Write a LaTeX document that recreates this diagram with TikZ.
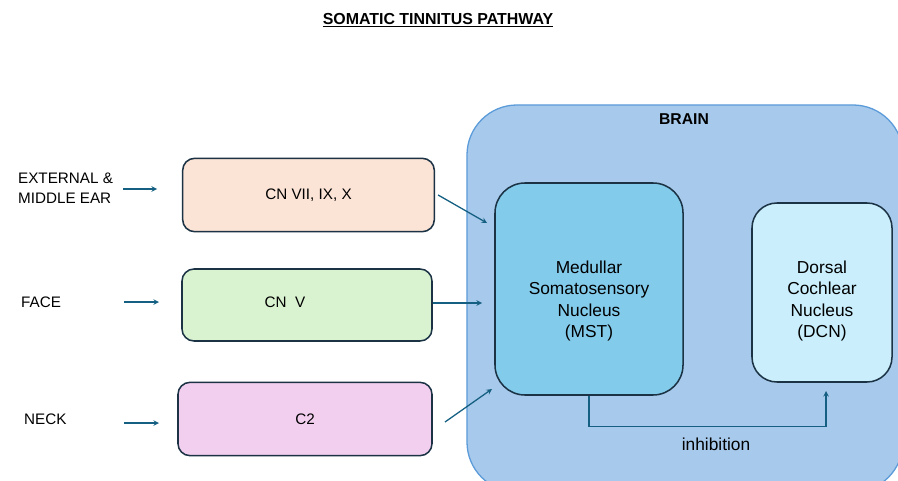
\documentclass[tikz,border=0pt]{standalone}
\usepackage{fontspec}
\setmainfont{Liberation Sans}
\usetikzlibrary{calc}
\definecolor{arrowcol}{HTML}{156082}
\definecolor{boxline}{HTML}{1B3345}
\definecolor{brainfill}{HTML}{A7C9EB}
\definecolor{brainline}{HTML}{5B9BD9}
\definecolor{earfill}{HTML}{FBE3D6}
\definecolor{facefill}{HTML}{D9F2D0}
\definecolor{neckfill}{HTML}{F2CFEE}
\definecolor{mstfill}{HTML}{83CBEB}
\definecolor{dcnfill}{HTML}{CAEEFB}

\begin{document}
\begin{tikzpicture}[x=0.03cm,y=-0.03cm,>=stealth,
		nerve/.style={draw=boxline,line width=1.3pt,rounded corners=0.36cm,minimum width=7.55cm,minimum height=2.2cm,font=\fontsize{13}{16}\selectfont},
		nucleus/.style={draw=boxline,line width=1.3pt},
		nuctext/.style={align=center,font=\fontsize{14.8}{18}\selectfont},
		site/.style={anchor=west,align=left,font=\fontsize{13}{17.5}\selectfont},
		path/.style={->,draw=arrowcol,line width=1.1pt}]
			\clip (0,0) rectangle (898,481);
			\node[] (title) at (438,20) {\fontsize{13.6}{16}\selectfont\bfseries\underline{SOMATIC TINNITUS PATHWAY}};
			\node[draw=brainline,line width=1.1pt,fill=brainfill,rounded corners=1.5cm,minimum width=13.08cm,minimum height=11.61cm] (brain) at (685,298.5) {};
			\node[] (brainlbl) at (684,119) {\fontsize{13.4}{16}\selectfont\bfseries BRAIN};
			\node[nerve,fill=earfill] (cnvii) at (308.5,195) {CN VII, IX, X};
			\node[nerve,fill=facefill,minimum width=7.5cm,minimum height=2.16cm] (cnv) at (307,305) {};
			\node[font=\fontsize{13}{16}\selectfont] (cnvtext) at (285,302) {CN\ \ V};
			\node[nerve,fill=neckfill,minimum width=7.62cm] (c2) at (305,419) {C2};
			\node[nucleus,fill=mstfill,rounded corners=0.9cm,minimum width=5.64cm,minimum height=6.36cm] (mst) at (589,289) {};
			\node[nuctext] (msttext) at (589,301) {Medullar\\Somatosensory\\Nucleus\\(MST)};
			\node[nucleus,fill=dcnfill,rounded corners=0.75cm,minimum width=4.2cm,minimum height=5.37cm] (dcn) at (822,292.5) {};
			\node[nuctext] (dcntext) at (822,301) {Dorsal\\Cochlear\\Nucleus\\(DCN)};
			\node[site] (ear) at (14,188) {EXTERNAL \&\\MIDDLE EAR};
			\node[site] (face) at (17,302) {FACE};
			\node[site] (neck) at (20,419) {NECK};
			\coordinate (ear1) at (123,189);
			\coordinate (ear2) at (157,189);
			\coordinate (face1) at (124,302);
			\coordinate (face2) at (159,302);
			\coordinate (neck1) at (124,423);
			\coordinate (neck2) at (159,423);
			\coordinate (in1) at (487,223);
			\coordinate (in2) at (482,303);
			\coordinate (neckout) at (445,422);
			\coordinate (in3) at (492,389);
			\coordinate (inh) at (826,391);
			\draw[path] (ear1) -- (ear2);
			\draw[path] (face1) -- (face2);
			\draw[path] (neck1) -- (neck2);
			\draw[path] ($(cnvii.east)+(3,0)$) -- (in1);
			\draw[path] (cnv.east |- in2) -- (in2);
			\draw[path] (neckout) -- (in3);
			\draw[path] (mst.south) -- ++(0,31) -| (inh);
			\node[font=\fontsize{14.8}{18}\selectfont] (inhlbl) at (716,444) {inhibition};
		\end{tikzpicture}
\end{document}
